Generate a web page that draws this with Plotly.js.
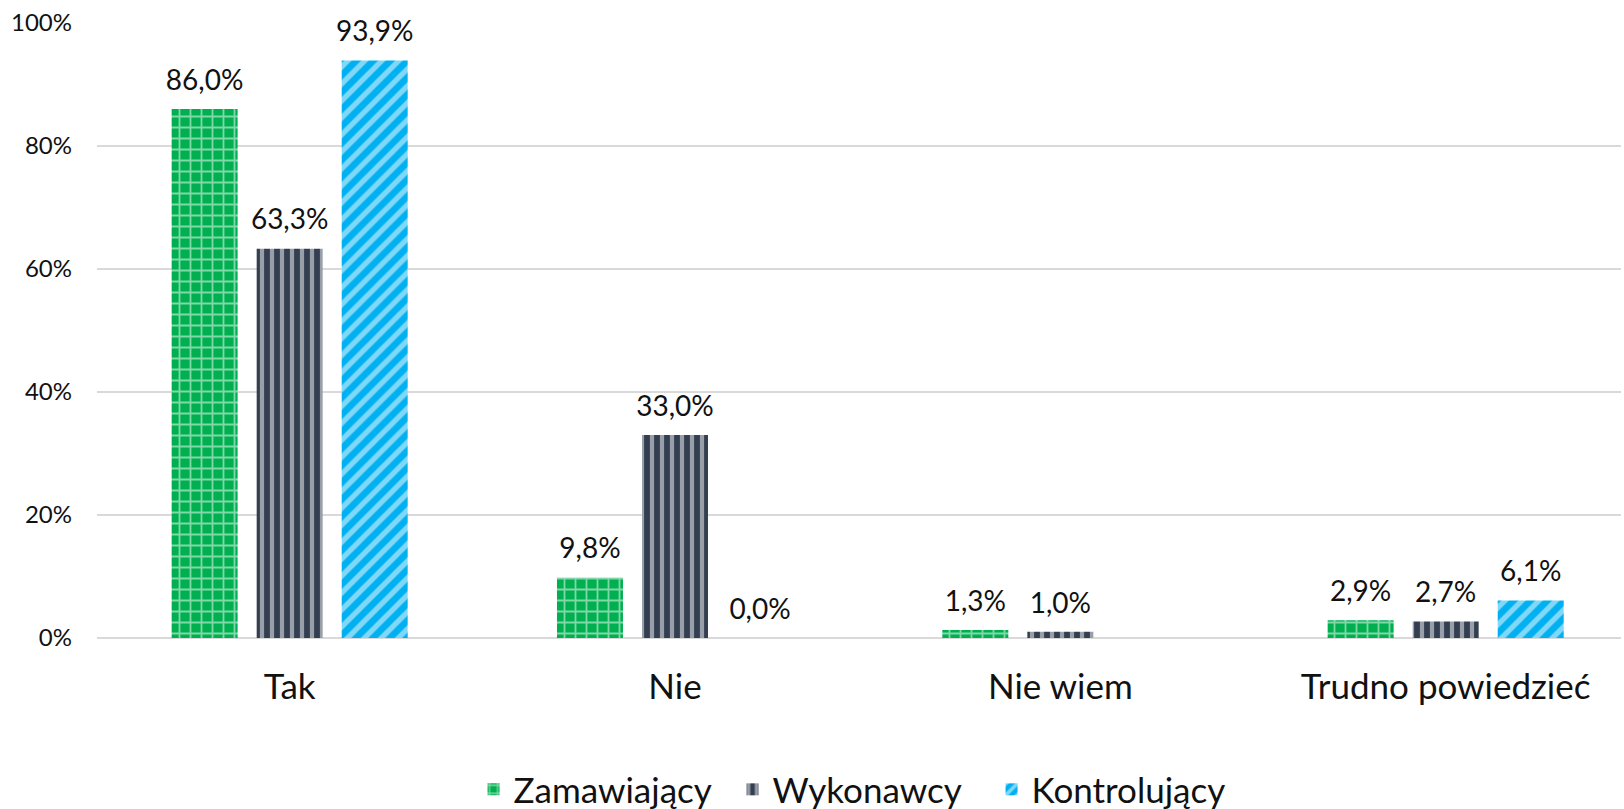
<!DOCTYPE html>
<html><head><meta charset="utf-8">
<script src="https://cdn.plot.ly/plotly-3.0.1.min.js"></script>
<style>html,body{margin:0;padding:0;overflow:hidden;background:#fff}</style>
</head><body>
<div id="chart" style="width:1624px;height:809px"></div>
<script>
const categories = ["Tak", "Nie", "Nie wiem", "Trudno powiedzieć"];
const seriesNames = ["Zamawiający", "Wykonawcy", "Kontrolujący"];
const zamawiajacy = [86.0, 9.8, 1.3, 2.9];
const wykonawcy = [63.3, 33.0, 1.0, 2.7];
const kontrolujacy = [93.9, 0.0, null, 6.1];
const yTicks = [0, 20, 40, 60, 80, 100];
const yTickLabels = ["0%", "20%", "40%", "60%", "80%", "100%"];

const FONT = "Lato, 'Open Sans', sans-serif";
function bar(name, y, color, shape, size, solidity) {
  return {
    type: "bar", name: name, x: categories, y: y, offsetgroup: name, alignmentgroup: "a",
    marker: {color: color, line: {width: 0},
      pattern: {shape: shape, fillmode: "overlay", fgcolor: "#ffffff", size: size, solidity: solidity}},
    hoverinfo: "x+y"
  };
}
function labels(name, y) {
  return {
    type: "scatter", mode: "markers+text", name: name, x: categories, y: y, showlegend: false,
    offsetgroup: name, alignmentgroup: "a",
    marker: {size: 18, color: "rgba(0,0,0,0)"},
    texttemplate: "%{y:.1f}%", textposition: "top center", cliponaxis: false,
    textfont: {family: FONT, size: 28, color: "#111"}, hoverinfo: "skip"
  };
}
const data = [
  bar(seriesNames[0], zamawiajacy, "#00B050", "+", 11, 0.3),
  bar(seriesNames[1], wykonawcy, "#333F50", "|", 10, 0.42),
  bar(seriesNames[2], kontrolujacy, "#00B0F0", "/", 12, 0.45),
  labels(seriesNames[0], zamawiajacy),
  labels(seriesNames[1], wykonawcy),
  labels(seriesNames[2], kontrolujacy)
];
const layout = {
  width: 1624, height: 809,
  margin: {l: 97, r: 3, t: 23, b: 171},
  paper_bgcolor: "#fff", plot_bgcolor: "#fff",
  separators: ", ",
  barmode: "group", bargap: 0.338, bargroupgap: 0.224,
  scattermode: "group", scattergap: 0.338,
  font: {family: FONT, color: "#111"},
  xaxis: {range: [-0.5, 3.455], showgrid: false, zeroline: false, showline: false, ticks: "",
    tickfont: {family: FONT, size: 35, color: "#111"}, ticklabelstandoff: 25},
  yaxis: {range: [0, 100], tickmode: "array", tickvals: yTicks, ticktext: yTickLabels, showgrid: true, gridcolor: "#D9D9D9", gridwidth: 1.5,
    zeroline: true, zerolinecolor: "#D9D9D9", zerolinewidth: 1.5, showline: false, ticks: "",
    tickfont: {family: FONT, size: 24, color: "#111"}, ticklabelstandoff: 24},
  showlegend: true,
  legend: {orientation: "h", xref: "paper", x: 0.502, xanchor: "center",
    yref: "container", y: 0.024, yanchor: "middle",
    entrywidth: 214, entrywidthmode: "pixels",
    font: {family: FONT, size: 35, color: "#111"}, traceorder: "normal"}
};
Plotly.newPlot("chart", data, layout, {displayModeBar: false, staticPlot: true});
</script>
</body></html>
